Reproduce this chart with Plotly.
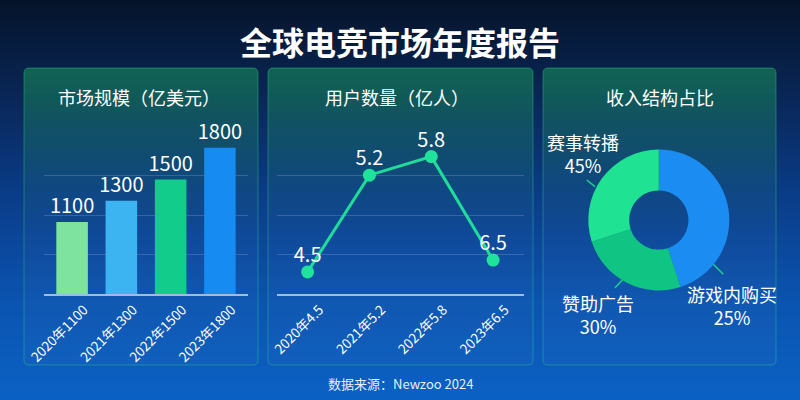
import plotly.graph_objects as go

W, H = 800, 400

# ---------------- data ----------------
bar_cats = ["2020年1100", "2021年1300", "2022年1500", "2023年1800"]
bar_values = [1100, 1300, 1500, 1800]
bar_colors = ["#7fe3a0", "#3db4f2", "#12cc8c", "#168bf2"]

user_cats = ["2020年4.5", "2021年5.2", "2022年5.8", "2023年6.5"]
user_labels = ["4.5", "5.2", "5.8", "6.5"]
user_marks = [0.56, 3.01, 3.48, 0.86]  # heights as drawn in the picture (grid units)

rev_labels = ["游戏内购买", "赞助广告", "赛事转播"]
rev_pct = ["25%", "30%", "45%"]
rev_slices = [45, 25, 30]  # slice sizes as drawn, clockwise from 12 o'clock
rev_colors = ["#1a8cf2", "#10c584", "#1fe393"]

FONT = "Noto Sans CJK SC"


def px(x):
    return x / W


def py(y):
    return 1 - y / H


def lerp_color(stops, t):
    for i in range(len(stops) - 1):
        t0, c0 = stops[i]
        t1, c1 = stops[i + 1]
        if t0 <= t <= t1:
            f = (t - t0) / (t1 - t0) if t1 > t0 else 0
            return tuple(c0[k] + (c1[k] - c0[k]) * f for k in range(3))
    return stops[-1][1]


shapes = []
# background gradient
bg_stops = [(0, (6, 20, 42)), (100, (10, 40, 88)), (200, (11, 62, 138)),
            (300, (11, 84, 176)), (400, (11, 98, 196))]
step = 4
for y in range(0, H, step):
    c = lerp_color(bg_stops, y + step / 2)
    shapes.append(dict(type="rect", xref="paper", yref="paper", layer="below",
                       x0=0, x1=1, y0=py(y + step), y1=py(y),
                       fillcolor="rgb(%d,%d,%d)" % c, line=dict(width=0)))

panels = [(24, 258), (268, 533), (543, 776)]
PT, PB, R = 68, 365, 5


def rounded_path(x0, y0, x1, y1, r):
    return ("M %f,%f L %f,%f Q %f,%f %f,%f L %f,%f Q %f,%f %f,%f L %f,%f Q %f,%f %f,%f "
            "L %f,%f Q %f,%f %f,%f Z") % (
        px(x0 + r), py(y0), px(x1 - r), py(y0), px(x1), py(y0), px(x1), py(y0 + r),
        px(x1), py(y1 - r), px(x1), py(y1), px(x1 - r), py(y1),
        px(x0 + r), py(y1), px(x0), py(y1), px(x0), py(y1 - r),
        px(x0), py(y0 + r), px(x0), py(y0), px(x0 + r), py(y0))


for (x0, x1) in panels:
    shapes.append(dict(type="path", xref="paper", yref="paper", layer="below",
                       path=rounded_path(x0, PT, x1, PB, R),
                       fillcolor="rgba(255,255,255,0.025)", line=dict(width=0)))
    gstep = 3
    yend = 235
    y = PT
    while y < yend:
        hgt = 1 if y < PT + R else gstep
        t = (y - PT) / (yend - PT)
        a = 0.48 * (1 - t) ** 1.3
        inset = 0
        if y < PT + R:
            dy = PT + R - (y + 0.5)
            inset = R - (R * R - dy * dy) ** 0.5
        shapes.append(dict(type="rect", xref="paper", yref="paper", layer="below",
                           x0=px(x0 + inset), x1=px(x1 - inset), y0=py(y + hgt), y1=py(y),
                           fillcolor="rgba(22,165,90,%.3f)" % a, line=dict(width=0)))
        y += hgt
    shapes.append(dict(type="path", xref="paper", yref="paper", layer="below",
                       path=rounded_path(x0, PT, x1, PB, R),
                       fillcolor="rgba(0,0,0,0)",
                       line=dict(width=1, color="rgba(50,190,130,0.45)")))

# pie leader lines
for (ax0, ay0, ax1, ay1) in [(586.7, 180, 595, 186.7), (615, 287.7, 622.3, 280),
                             (713.3, 264.3, 723.3, 274.3)]:
    shapes.append(dict(type="line", xref="paper", yref="paper", layer="above",
                       x0=px(ax0), y0=py(ay0), x1=px(ax1), y1=py(ay1),
                       line=dict(color="#1fd08c", width=1.5)))

fig = go.Figure()

fig.add_trace(go.Bar(
    x=bar_cats, y=bar_values, marker=dict(color=bar_colors, line=dict(width=0)),
    width=0.64, text=[str(v) for v in bar_values], textposition="outside",
    textfont=dict(size=20, color="white", family=FONT), constraintext="none",
    cliponaxis=False, xaxis="x", yaxis="y", showlegend=False, hoverinfo="skip"))

fig.add_trace(go.Scatter(
    x=user_cats, y=user_marks, mode="lines+markers",
    line=dict(color="#1fdc98", width=3),
    marker=dict(size=13, color="#1fe39a"), cliponaxis=False,
    xaxis="x2", yaxis="y2", showlegend=False, hoverinfo="skip"))

LABEL_LIFT = 0.38  # grid units above each point
fig.add_trace(go.Scatter(
    x=user_cats, y=[v + LABEL_LIFT for v in user_marks], mode="text", text=user_labels,
    textposition="middle center",
    textfont=dict(size=20, color="white", family=FONT), cliponaxis=False,
    xaxis="x2", yaxis="y2", showlegend=False, hoverinfo="skip"))

pie_cx, pie_cy, pie_r = 658.8, 220, 70.5
fig.add_trace(go.Pie(
    labels=rev_labels, values=rev_slices, marker=dict(colors=rev_colors, line=dict(width=0)),
    hole=0.42, sort=False, direction="clockwise", rotation=0, textinfo="none",
    domain=dict(x=[px(pie_cx - pie_r), px(pie_cx + pie_r)],
                y=[py(pie_cy + pie_r), py(pie_cy - pie_r)]),
    showlegend=False, hoverinfo="skip"))

ydom = [py(294), py(136)]
axis_common = dict(showgrid=False, zeroline=False, ticks="", tickangle=-45,
                   tickfont=dict(size=13.5, color="white", family=FONT),
                   ticklabelshift=12, ticklabelstandoff=1,
                   showline=True, linecolor="rgba(255,255,255,0.6)", linewidth=1.5,
                   fixedrange=True, automargin=False)
yaxis_common = dict(showticklabels=False, zeroline=False, showline=False,
                    gridcolor="rgba(255,255,255,0.16)", gridwidth=1, fixedrange=True,
                    automargin=False)


def ann(text, x, y, size, color="white"):
    return dict(text=text, x=px(x), y=py(y), xref="paper", yref="paper",
                showarrow=False, xanchor="center", yanchor="middle",
                font=dict(size=size, color=color, family=FONT))


annotations = [
    ann("<b>全球电竞市场年度报告</b>", 400, 41, 32),
    ann("市场规模（亿美元）", 139, 97, 18),
    ann("用户数量（亿人）", 397, 97, 18),
    ann("收入结构占比", 660, 97, 18),
    ann("数据来源：Newzoo 2024", 400, 383, 13, "rgba(255,255,255,0.92)"),
]
label_pos = {"游戏内购买": (732, 305.5),
             "赞助广告": (598.3, 314),
             "赛事转播": (583, 153)}
for name, pct in zip(rev_labels, rev_pct):
    lx, ly = label_pos[name]
    annotations.append(ann(name + "<br>" + pct, lx, ly, 18))

fig.update_layout(
    width=W, height=H, autosize=False,
    margin=dict(l=0, r=0, t=0, b=0, autoexpand=False),
    paper_bgcolor="#0a2a5a", plot_bgcolor="rgba(0,0,0,0)",
    font=dict(family=FONT, color="white"),
    xaxis=dict(domain=[px(44), px(248)], range=[-0.57, 3.57], anchor="y", **axis_common),
    yaxis=dict(domain=ydom, range=[420, 1910.6], tick0=420, dtick=372.5, anchor="x",
               **yaxis_common),
    xaxis2=dict(domain=[px(276.7), px(524)], range=[-0.5, 3.5], anchor="y2", **axis_common),
    yaxis2=dict(domain=ydom, range=[0, 4.002], tick0=0, dtick=1, anchor="x2", **yaxis_common),
    shapes=shapes, annotations=annotations,
)

fig.write_html("out.html", config=dict(displayModeBar=False))
